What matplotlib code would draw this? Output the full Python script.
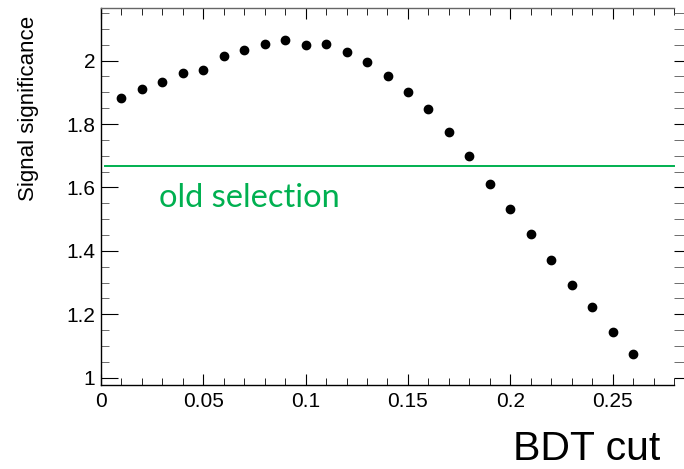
import matplotlib
matplotlib.use("Agg")
import matplotlib.pyplot as plt
from matplotlib.ticker import MultipleLocator, FuncFormatter

# BDT cut scan
bdt_cut = [0.01, 0.02, 0.03, 0.04, 0.05, 0.06, 0.07, 0.08, 0.09, 0.10, 0.11, 0.12, 0.13,
           0.14, 0.15, 0.16, 0.17, 0.18, 0.19, 0.20, 0.21, 0.22, 0.23, 0.24, 0.25, 0.26]
significance = [1.881, 1.910, 1.932, 1.960, 1.972, 2.016, 2.033, 2.054, 2.064, 2.050, 2.052, 2.026, 1.995,
                1.950, 1.900, 1.847, 1.776, 1.700, 1.611, 1.531, 1.453, 1.372, 1.291, 1.224, 1.144, 1.075]
old_selection = 1.667

green = "#00b050"
plt.rcParams['font.family'] = ['Liberation Sans', 'DejaVu Sans']

fig = plt.figure(figsize=(6.84, 4.69), dpi=100)
ax = fig.add_axes([101/684, 1 - 385/469, (674 - 101)/684, (385 - 8)/469])

ax.plot(bdt_cut, significance, 'o', color='black', ms=6, mec='black')
ax.plot([0.002, 0.28], [old_selection, old_selection], color=green, lw=1.4, clip_on=False)
ax.text(0.0283, 1.538, "old selection", color=green, fontsize=23.5,
        family=['Lato', 'DejaVu Sans'], va='baseline', ha='left')

ax.set_xlim(0, 0.28)
ax.set_ylim(0.977, 2.166)

ax.xaxis.set_major_locator(MultipleLocator(0.05))
ax.xaxis.set_minor_locator(MultipleLocator(0.01))
ax.yaxis.set_major_locator(MultipleLocator(0.2))
ax.yaxis.set_minor_locator(MultipleLocator(0.05))
fmt = FuncFormatter(lambda v, p: "%g" % round(v, 3))
ax.xaxis.set_major_formatter(fmt)
ax.yaxis.set_major_formatter(fmt)

ax.spines['right'].set_visible(False)
for s in ['left', 'bottom', 'top']:
    ax.spines[s].set_linewidth(1.0)
ax.spines['top'].set_color('#666666')

ax.tick_params(axis='x', which='both', direction='in', top=True, labelsize=15, pad=5)
ax.tick_params(axis='x', which='major', length=8)
ax.tick_params(axis='x', which='minor', length=5)
ax.tick_params(axis='y', which='both', direction='in', left=True, labelsize=15, pad=4)
ax.tick_params(axis='y', which='major', length=12)
ax.tick_params(axis='y', which='minor', length=6, color='#555555')
# right-side ticks stick out past the frame edge
ax.yaxis.set_ticks_position('both')
for t in ax.yaxis.get_major_ticks() + ax.yaxis.get_minor_ticks():
    t.tick2line.set_marker(matplotlib.lines.TICKRIGHT)
    t.tick2line.set_markersize(10)

ax.set_ylabel("Signal significance", fontsize=16)
ax.yaxis.set_label_coords(-0.108, 0.733)

fig.text(660/684, 1 - 460/469, "BDT cut", fontsize=29.5, ha='right', va='baseline')

fig.savefig("out.png", dpi=100)
